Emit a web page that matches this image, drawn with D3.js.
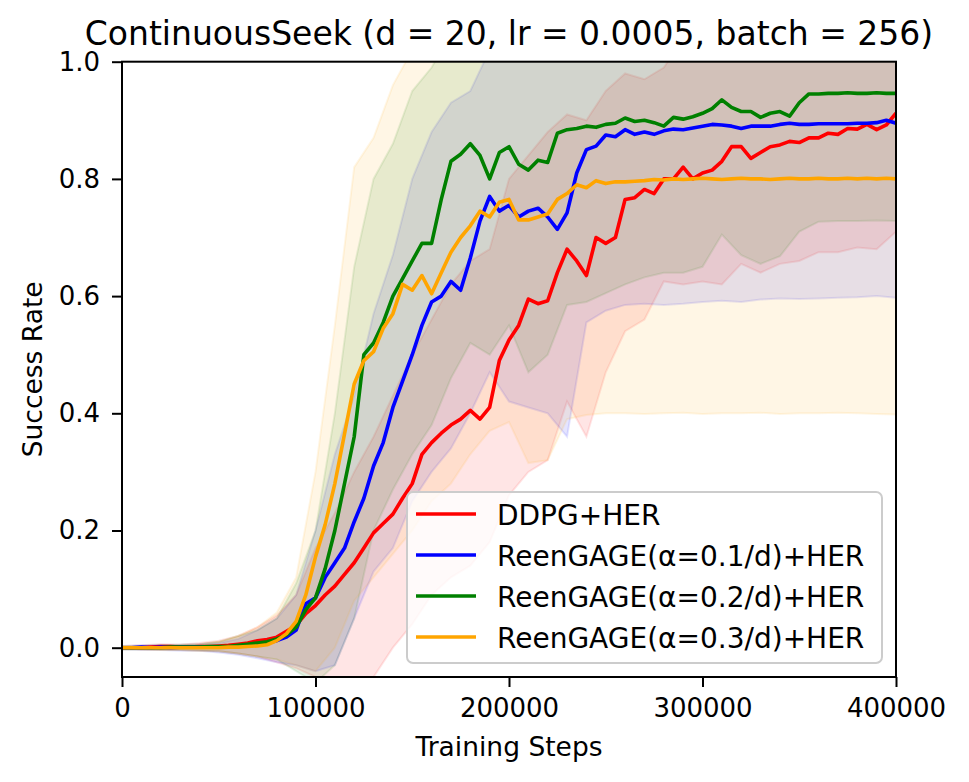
<!DOCTYPE html>
<html>
<head>
<meta charset="utf-8">
<script src="https://cdn.jsdelivr.net/npm/d3@7"></script>
<style>
body { margin: 0; background: #fff; }
text { font-family: "DejaVu Sans", sans-serif; fill: #000; }
</style>
</head>
<body>
<svg id="chart" width="969" height="782"></svg>
<script>
//------------------------------------------------------------------------------
// Data

// mean curves, one value every 5000 steps (0 .. 400000)
var meanSteps = d3.range(0, 400001, 5000);
// std bands, one value every 10000 steps (0 .. 400000)
var bandSteps = d3.range(0, 400001, 10000);

var ddpg = [
	0, 0, 0, 0.001, 0.002, 0.002, 0.001, 0.001, 0.002, 0.002,
	0.003, 0.004, 0.006, 0.008, 0.012, 0.014, 0.018, 0.028, 0.038, 0.058,
	0.072, 0.09, 0.105, 0.125, 0.145, 0.17, 0.196, 0.212, 0.228, 0.255,
	0.28, 0.33, 0.35, 0.366, 0.38, 0.39, 0.405, 0.39, 0.41, 0.49,
	0.525, 0.55, 0.595, 0.587, 0.592, 0.64, 0.68, 0.66, 0.635, 0.70,
	0.69, 0.70, 0.765, 0.768, 0.782, 0.775, 0.80, 0.80, 0.82, 0.80,
	0.81, 0.815, 0.83, 0.855, 0.855, 0.835, 0.845, 0.855, 0.858, 0.864,
	0.862, 0.87, 0.87, 0.878, 0.876, 0.886, 0.885, 0.893, 0.884, 0.892,
	0.912
];
var gage1 = [
	0, 0, 0.001, 0, 0.001, 0, 0.001, 0.001, 0.001, 0.001,
	0.001, 0.001, 0.002, 0.004, 0.006, 0.008, 0.012, 0.018, 0.03, 0.075,
	0.085, 0.12, 0.145, 0.17, 0.215, 0.255, 0.31, 0.35, 0.41, 0.455,
	0.5, 0.55, 0.59, 0.6, 0.625, 0.61, 0.665, 0.728, 0.77, 0.745,
	0.755, 0.735, 0.745, 0.75, 0.735, 0.714, 0.742, 0.81, 0.85, 0.856,
	0.875, 0.872, 0.884, 0.876, 0.88, 0.876, 0.882, 0.885, 0.884, 0.887,
	0.89, 0.893, 0.892, 0.89, 0.886, 0.89, 0.89, 0.89, 0.893, 0.895,
	0.893, 0.893, 0.894, 0.894, 0.894, 0.894, 0.895, 0.895, 0.896, 0.9,
	0.895
];
var gage2 = [
	0, 0, 0, 0, 0, 0.001, 0.001, 0.001, 0.001, 0.002,
	0.002, 0.002, 0.004, 0.006, 0.008, 0.01, 0.015, 0.022, 0.035, 0.065,
	0.085, 0.135, 0.2, 0.28, 0.36, 0.5, 0.52, 0.555, 0.6, 0.63,
	0.66, 0.69, 0.69, 0.765, 0.83, 0.842, 0.86, 0.84, 0.80, 0.845,
	0.855, 0.825, 0.815, 0.832, 0.828, 0.878, 0.884, 0.886, 0.89, 0.888,
	0.893, 0.895, 0.904, 0.898, 0.9, 0.896, 0.89, 0.905, 0.902, 0.906,
	0.912, 0.92, 0.935, 0.922, 0.915, 0.915, 0.905, 0.912, 0.915, 0.907,
	0.93, 0.945, 0.945, 0.946, 0.946, 0.947, 0.946, 0.946, 0.947, 0.946,
	0.946
];
var gage3 = [
	0, 0, 0, 0, 0, 0, 0, 0, 0, 0,
	0, 0.001, 0.001, 0.002, 0.003, 0.005, 0.012, 0.024, 0.045, 0.09,
	0.155, 0.21, 0.28, 0.365, 0.45, 0.49, 0.505, 0.545, 0.57, 0.62,
	0.61, 0.635, 0.604, 0.64, 0.675, 0.70, 0.72, 0.745, 0.735, 0.76,
	0.765, 0.73, 0.73, 0.735, 0.74, 0.765, 0.775, 0.79, 0.785, 0.797,
	0.792, 0.795, 0.795, 0.796, 0.797, 0.799, 0.798, 0.8, 0.799, 0.8,
	0.801, 0.8, 0.799, 0.8, 0.801, 0.8, 0.8, 0.799, 0.8, 0.801,
	0.8, 0.8, 0.801, 0.8, 0.8, 0.801, 0.8, 0.801, 0.8, 0.801,
	0.8
];

var ddpgLo = [
	0, -0.003, -0.004, -0.004, -0.005, -0.006, -0.01, -0.015, -0.025, -0.035,
	-0.05, -0.06, -0.06, -0.05, 0.0, 0.04, 0.09, 0.12, 0.14, 0.18,
	0.26, 0.3, 0.32, 0.42, 0.36, 0.47, 0.54, 0.56, 0.625, 0.62,
	0.625, 0.62, 0.655, 0.64, 0.655, 0.66, 0.675, 0.675, 0.683, 0.68,
	0.71
];
var ddpgHi = [
	0.003, 0.004, 0.006, 0.005, 0.008, 0.012, 0.02, 0.035, 0.055, 0.09,
	0.17, 0.23, 0.3, 0.36, 0.43, 0.5, 0.56, 0.62, 0.66, 0.68,
	0.8, 0.84, 0.88, 0.91, 0.9, 0.95, 0.98, 0.97, 0.99, 1.04,
	1.03, 1.06, 1.07, 1.06, 1.07, 1.08, 1.08, 1.09, 1.09, 1.1,
	1.11
];
var gage1Lo = [
	-0.003, -0.004, -0.004, -0.005, -0.005, -0.008, -0.012, -0.018, -0.025, -0.03,
	-0.04, -0.03, 0.05, 0.13, 0.17, 0.25, 0.3, 0.34, 0.4, 0.47,
	0.42, 0.41, 0.4, 0.36, 0.555, 0.575, 0.585, 0.587, 0.585, 0.587,
	0.59, 0.592, 0.59, 0.594, 0.596, 0.595, 0.596, 0.597, 0.598, 0.6,
	0.597
];
var gage1Hi = [
	0.003, 0.004, 0.005, 0.005, 0.006, 0.008, 0.015, 0.03, 0.05, 0.09,
	0.2, 0.33, 0.43, 0.57, 0.67, 0.8, 0.88, 0.93, 0.95, 1.02,
	1.09, 1.08, 1.07, 1.12, 1.15, 1.14, 1.18, 1.17, 1.18, 1.19,
	1.19, 1.19, 1.19, 1.19, 1.19, 1.19, 1.19, 1.19, 1.19, 1.19,
	1.19
];
var gage2Lo = [
	-0.003, -0.003, -0.004, -0.004, -0.005, -0.006, -0.01, -0.015, -0.02, -0.04,
	-0.06, -0.03, 0.05, 0.2, 0.27, 0.33, 0.38, 0.46, 0.52, 0.5,
	0.55, 0.47, 0.5, 0.585, 0.59, 0.605, 0.62, 0.632, 0.64, 0.64,
	0.65, 0.705, 0.67, 0.655, 0.668, 0.71, 0.727, 0.728, 0.728, 0.729,
	0.728
];
var gage2Hi = [
	0.003, 0.003, 0.004, 0.005, 0.006, 0.01, 0.02, 0.03, 0.05, 0.11,
	0.2, 0.4, 0.65, 0.8, 0.86, 0.95, 0.99, 1.05, 1.1, 1.1,
	1.13, 1.15, 1.14, 1.16, 1.16, 1.17, 1.17, 1.17, 1.17, 1.17,
	1.17, 1.17, 1.17, 1.17, 1.17, 1.17, 1.17, 1.17, 1.17, 1.17,
	1.17
];
var gage3Lo = [
	-0.003, -0.003, -0.004, -0.004, -0.005, -0.006, -0.01, -0.015, -0.02, -0.03,
	-0.04, 0.0, 0.08, 0.12, 0.16, 0.2, 0.25, 0.28, 0.33, 0.37,
	0.385, 0.315, 0.32, 0.39, 0.397, 0.4, 0.4, 0.399, 0.4, 0.401,
	0.399, 0.4, 0.4, 0.401, 0.399, 0.4, 0.4, 0.401, 0.4, 0.399,
	0.398
];
var gage3Hi = [
	0.003, 0.003, 0.004, 0.005, 0.006, 0.01, 0.02, 0.035, 0.06, 0.12,
	0.3, 0.55, 0.82, 0.87, 0.96, 1.02, 1.04, 1.07, 1.1, 1.13,
	1.14, 1.14, 1.15, 1.17, 1.18, 1.19, 1.19, 1.2, 1.2, 1.2,
	1.2, 1.2, 1.2, 1.2, 1.2, 1.2, 1.2, 1.2, 1.2, 1.2,
	1.2
];

var labels = ['DDPG+HER', 'ReenGAGE(α=0.1/d)+HER', 'ReenGAGE(α=0.2/d)+HER', 'ReenGAGE(α=0.3/d)+HER'];
var colors = ['red', 'blue', 'green', 'orange'];
var xTicks = [0, 100000, 200000, 300000, 400000];
var yTicks = [0.0, 0.2, 0.4, 0.6, 0.8, 1.0];

var series = [
	{ label: labels[0], color: colors[0], mean: ddpg,  lo: ddpgLo,  hi: ddpgHi },
	{ label: labels[1], color: colors[1], mean: gage1, lo: gage1Lo, hi: gage1Hi },
	{ label: labels[2], color: colors[2], mean: gage2, lo: gage2Lo, hi: gage2Hi },
	{ label: labels[3], color: colors[3], mean: gage3, lo: gage3Lo, hi: gage3Hi }
];

//------------------------------------------------------------------------------
// Layout

var plot = { left: 122, right: 896, top: 61.7, bottom: 677 };

var x = d3.scaleLinear().domain([0, 400000]).range([plot.left, plot.right]);
var y = d3.scaleLinear().domain([-0.05, 1.0]).range([plot.bottom, plot.top]);

var svg = d3.select('#chart');

svg.append('defs').append('clipPath').attr('id', 'plot-clip')
	.append('rect')
	.attr('x', plot.left).attr('y', plot.top)
	.attr('width', plot.right - plot.left)
	.attr('height', plot.bottom - plot.top);

var body = svg.append('g').attr('clip-path', 'url(#plot-clip)');

//------------------------------------------------------------------------------
// Bands

var band = d3.area()
	.x(function (d) { return x(d.s); })
	.y0(function (d) { return y(d.lo); })
	.y1(function (d) { return y(d.hi); });

series.forEach(function (ser) {
	var pts = bandSteps.map(function (s, i) { return { s: s, lo: ser.lo[i], hi: ser.hi[i] }; });
	body.append('path')
		.attr('d', band(pts))
		.attr('fill', ser.color)
		.attr('fill-opacity', 0.1)
		.attr('stroke', ser.color)
		.attr('stroke-opacity', 0.1)
		.attr('stroke-width', 2);
});

//------------------------------------------------------------------------------
// Mean lines

var line = d3.line()
	.x(function (d, i) { return x(meanSteps[i]); })
	.y(function (d) { return y(d); });

series.forEach(function (ser) {
	body.append('path')
		.attr('d', line(ser.mean))
		.attr('fill', 'none')
		.attr('stroke', ser.color)
		.attr('stroke-width', 3.6)
		.attr('stroke-linejoin', 'round');
});

//------------------------------------------------------------------------------
// Axes

var xAxis = d3.axisBottom(x).tickValues(xTicks).tickFormat(d3.format('d'))
	.tickSize(10).tickSizeOuter(0).tickPadding(12);
var yAxis = d3.axisLeft(y).tickValues(yTicks).tickFormat(d3.format('.1f'))
	.tickSize(10).tickSizeOuter(0).tickPadding(12);

var gx = svg.append('g').attr('transform', 'translate(0,' + plot.bottom + ')').call(xAxis);
var gy = svg.append('g').attr('transform', 'translate(' + plot.left + ',0)').call(yAxis);

[gx, gy].forEach(function (g) {
	g.select('.domain').remove();
	g.selectAll('.tick line').attr('stroke', '#000').attr('stroke-width', 2);
	g.selectAll('.tick text')
		.attr('fill', '#000')
		.style('font-family', '"DejaVu Sans", sans-serif')
		.style('font-size', '26px');
});

svg.append('rect')
	.attr('x', plot.left).attr('y', plot.top)
	.attr('width', plot.right - plot.left)
	.attr('height', plot.bottom - plot.top)
	.attr('fill', 'none')
	.attr('stroke', '#000')
	.attr('stroke-width', 2);

svg.append('text')
	.attr('x', (plot.left + plot.right) / 2).attr('y', 45)
	.attr('text-anchor', 'middle')
	.style('font-size', '33px')
	.text('ContinuousSeek (d = 20, lr = 0.0005, batch = 256)');

svg.append('text')
	.attr('x', (plot.left + plot.right) / 2).attr('y', 756)
	.attr('text-anchor', 'middle')
	.style('font-size', '26.5px')
	.text('Training Steps');

svg.append('text')
	.attr('transform', 'translate(42,' + (plot.top + plot.bottom) / 2 + ') rotate(-90)')
	.attr('text-anchor', 'middle')
	.style('font-size', '26.5px')
	.text('Success Rate');

//------------------------------------------------------------------------------
// Legend

var legend = svg.append('g').attr('transform', 'translate(407,492)');

legend.append('rect')
	.attr('width', 475).attr('height', 171)
	.attr('rx', 6).attr('ry', 6)
	.attr('fill', '#fff').attr('fill-opacity', 0.8)
	.attr('stroke', '#cccccc').attr('stroke-width', 2);

var rows = legend.selectAll('g.row')
	.data(series)
	.enter().append('g')
	.attr('class', 'row')
	.attr('transform', function (d, i) { return 'translate(0,' + (22 + i * 41) + ')'; });

rows.append('line')
	.attr('x1', 9).attr('x2', 69)
	.attr('stroke', function (d) { return d.color; })
	.attr('stroke-width', 3.6);

rows.append('text')
	.attr('x', 90).attr('y', 10.5)
	.style('font-size', '28px')
	.text(function (d) { return d.label; });
</script>
</body>
</html>
